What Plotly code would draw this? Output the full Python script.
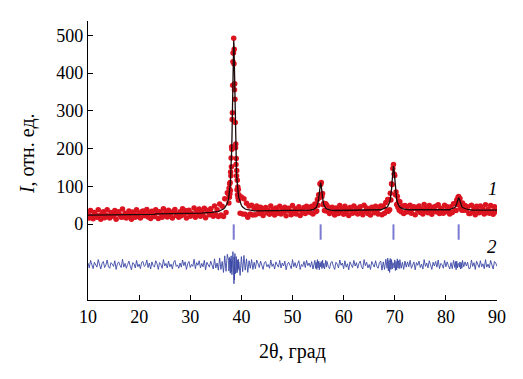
import plotly.graph_objects as go

# 2θ scan positions (deg)
TWO_THETA = [
    10.0,10.25,10.5,10.75,11.0,11.25,11.5,11.75,12.0,12.25,12.5,12.75,13.0,13.25,13.5,13.75,
    14.0,14.25,14.5,14.75,15.0,15.25,15.5,15.75,16.0,16.25,16.5,16.75,17.0,17.25,17.5,17.75,
    18.0,18.25,18.5,18.75,19.0,19.25,19.5,19.75,20.0,20.25,20.5,20.75,21.0,21.25,21.5,21.75,
    22.0,22.25,22.5,22.75,23.0,23.25,23.5,23.75,24.0,24.25,24.5,24.75,25.0,25.25,25.5,25.75,
    26.0,26.25,26.5,26.75,27.0,27.25,27.5,27.75,28.0,28.25,28.5,28.75,29.0,29.25,29.5,29.75,
    30.0,30.25,30.5,30.75,31.0,31.25,31.5,31.75,32.0,32.25,32.5,32.75,33.0,33.25,33.5,33.75,
    34.0,34.25,34.5,34.75,35.0,35.25,35.5,35.75,36.0,36.25,36.5,36.75,37.0,37.25,
    37.5,37.55,37.6,37.65,37.7,37.75,37.8,37.85,37.9,37.95,38.0,38.05,38.1,38.15,38.2,38.25,
    38.3,38.35,38.4,38.45,38.5,38.55,38.6,38.65,38.7,38.75,38.8,38.85,38.9,38.95,39.0,39.05,
    39.1,39.15,39.2,39.25,39.3,39.35,39.4,39.45,39.5,
    39.75,40.0,40.25,40.5,40.75,41.0,41.25,41.5,41.75,42.0,42.25,42.5,42.75,43.0,
    43.25,43.5,43.75,44.0,44.25,44.5,44.75,45.0,45.25,45.5,45.75,46.0,46.25,46.5,46.75,47.0,
    47.25,47.5,47.75,48.0,48.25,48.5,48.75,49.0,49.25,49.5,49.75,50.0,50.25,50.5,50.75,51.0,
    51.25,51.5,51.75,52.0,52.25,52.5,52.75,53.0,53.25,
    53.5,53.75,54.0,54.25,54.375,54.5,54.625,54.75,54.875,55.0,55.125,55.25,55.375,55.5,
    55.625,55.75,55.875,56.0,56.125,56.25,56.375,56.5,56.625,56.75,57.0,57.25,57.5,
    57.75,58.0,58.25,58.5,58.75,59.0,59.25,59.5,59.75,60.0,60.25,60.5,60.75,61.0,61.25,61.5,
    61.75,62.0,62.25,62.5,62.75,63.0,63.25,63.5,63.75,64.0,64.25,64.5,64.75,65.0,65.25,65.5,
    65.75,66.0,66.25,66.5,66.75,67.0,
    67.25,67.5,67.75,68.0,68.25,68.5,68.625,68.75,68.875,69.0,69.125,69.25,69.375,69.5,
    69.625,69.75,69.875,70.0,70.125,70.25,70.375,70.5,70.625,70.75,70.875,71.0,
    71.25,71.5,71.75,72.0,72.25,72.5,
    72.75,73.0,73.25,73.5,73.75,74.0,74.25,74.5,74.75,75.0,75.25,75.5,75.75,76.0,76.25,76.5,
    76.75,77.0,77.25,77.5,77.75,78.0,78.25,78.5,78.75,79.0,79.25,79.5,79.75,80.0,80.25,80.5,80.75,
    81.0,81.25,81.5,81.75,81.875,82.0,82.125,82.25,82.375,82.5,82.625,82.75,82.875,83.0,
    83.125,83.25,83.5,83.75,84.0,84.25,84.5,
    84.75,85.0,85.25,85.5,85.75,86.0,86.25,86.5,86.75,87.0,87.25,87.5,87.75,88.0,88.25,88.5,
    88.75,89.0,89.25,89.5,89.75,90.0,
]

# Calculated (fitted) profile, curve 1 line
CALC = [
    24,24,24,24,24,
    24,24,24,24,24,24,24,24,24,24,
    25,25,25,25,25,25,25,25,25,25,
    25,25,25,25,25,25,25,25,25,
    26,26,26,26,26,26,26,26,26,26,
    26,26,26,26,26,26,26,26,26,
    27,27,27,27,27,27,27,27,27,27,
    27,27,27,27,27,27,27,27,27,
    28,28,28,28,28,28,28,28,28,28,
    28,28,28,29,29,29,29,29,30,30,30,30,31,31,31,31,32,32,33,33,34,35,36,38,40,43,48,55,
    68,72,77,81,87,94,102,111,122,135,151,171,195,224,259,300,346,395,441,474,
    486,475,442,396,347,301,260,225,196,172,152,136,123,112,103,95,88,82,77,73,70,
    57,50,45,42,40,39,38,37,36,36,36,35,35,35,
    35,35,35,35,35,35,35,35,35,35,
    35,35,35,35,35,35,35,35,35,35,
    35,35,35,35,35,35,35,35,35,35,
    35,35,35,35,35,35,35,35,35,35,
    35,
    37,38,38,40,41,42,44,47,51,58,68,83,101,110,101,83,68,58,51,47,44,42,41,40,38,38,37,
    36,36,36,36,36,36,36,36,36,36,
    36,36,36,36,36,36,36,36,36,36,
    36,36,36,36,36,36,36,36,36,36,
    36,36,36,36,36,36,36,36,
    38,39,40,41,42,
    45,47,50,53,58,65,76,93,116,141,154,141,116,93,76,65,58,53,50,47,45,
    42,41,40,39,38,38,
    38,38,38,38,38,38,38,38,38,38,
    38,38,38,38,38,38,38,38,38,38,
    38,38,38,38,38,38,38,38,38,38,
    38,38,38,
    40,41,42,44,46,49,54,60,67,70,67,60,54,49,46,44,42,41,40,39,38,
    37,37,37,37,37,37,37,37,37,37,
    37,37,37,37,37,37,37,37,37,37,
    37,37,
]

# Difference curve (observed - calculated), curve 2
RESID = [
    5,-8,12,-3,-10,7,1,-6,14,-2,
    -11,4,9,-7,0,13,-5,-9,6,2,
    -4,11,-12,3,8,-1,-7,15,-6,4,
    -9,1,10,-3,-13,6,3,-8,12,-5,
    2,-10,7,9,-4,-1,13,-7,5,-11,
    8,-2,-6,11,3,-12,6,1,-9,14,
    -3,4,-8,10,-5,2,-11,7,12,-4,
    0,-9,5,-6,13,-2,8,-12,3,9,
    -7,1,-4,15,-10,6,-1,11,-8,4,
    -5,12,-13,7,2,-6,10,-3,-11,16,
    -8,5,-14,18,-12,9,-20,24,-17,28,
    12,-16,18,-10,20,-14,8,-22,16,-7,24,-19,10,-26,18,-5,22,35,12,-20,
    6,-50,21,-40,25,30,9,-23,16,-14,22,-8,19,-21,13,-17,10,-12,15,-10,8,
    -28,22,-18,25,-14,16,-20,11,-9,14,-12,7,-10,13,
    4,-7,10,-2,-12,6,9,-5,1,-9,13,-4,3,-11,8,0,-6,12,-8,5,
    -3,10,-13,2,7,-1,-10,14,-5,6,-8,3,11,-12,1,-4,9,-7,12,-2,5,
    -6,9,-11,5,12,-9,7,-12,14,-8,10,-13,6,-5,9,-10,13,-7,4,-11,8,12,-6,9,-4,-10,6,
    9,-4,-12,7,2,-8,13,-1,5,-10,
    11,-6,3,-13,8,0,-7,12,-3,6,
    -9,4,10,-5,-11,14,-2,7,-8,1,
    -12,9,3,-6,11,-4,-9,6,
    10,-14,8,-12,15,-9,18,-16,12,-20,17,-12,14,-11,6,4,-8,13,-15,9,-13,16,-8,11,-10,
    14,-9,7,-12,10,-6,8,
    -5,12,-9,3,8,-13,6,-1,10,-7,
    2,-11,14,-4,5,-8,11,0,-12,7,
    -3,9,-6,13,-10,4,1,-9,12,-5,
    8,-2,-11,
    6,-10,12,-7,9,-13,10,-8,4,3,-6,8,-11,6,-9,12,-5,8,-3,7,-10,
    -9,13,-4,6,-12,10,-1,-7,11,-5,3,-10,14,-6,2,-8,12,-3,-11,9,5,-4,
]

# Bragg reflection positions (deg)
BRAGG = [38.5, 55.5, 69.75, 82.5]

X_TICKS = [10, 20, 30, 40, 50, 60, 70, 80, 90]
Y_TICKS = [0, 100, 200, 300, 400, 500]

assert len(TWO_THETA) == len(CALC) == len(RESID), (len(TWO_THETA), len(CALC), len(RESID))

OBS = [c + r for c, r in zip(CALC, RESID)]
DIFF_OFFSET = -108
BRAGG_Y = -21

SERIF = "Liberation Serif, Times New Roman, serif"

fig = go.Figure()
fig.add_trace(go.Scatter(
    x=TWO_THETA, y=OBS, mode="markers",
    marker=dict(size=5.5, color="#dc1420", line=dict(width=0)),
    showlegend=False, hoverinfo="skip"))
fig.add_trace(go.Scatter(
    x=TWO_THETA, y=CALC, mode="lines",
    line=dict(color="#1a0a0a", width=1.3),
    showlegend=False))
fig.add_trace(go.Scatter(
    x=TWO_THETA, y=[r + DIFF_OFFSET for r in RESID], mode="lines",
    line=dict(color="#3c48a6", width=0.9),
    showlegend=False))
fig.add_trace(go.Scatter(
    x=BRAGG, y=[BRAGG_Y] * len(BRAGG), mode="markers",
    marker=dict(symbol="line-ns", size=11, line=dict(width=2, color="#7a7ad2")),
    showlegend=False))

fig.add_annotation(x=89.3, y=94, xref="x", yref="y", text="<i>1</i>", showarrow=False,
                   font=dict(family=SERIF, size=19, color="black"))
fig.add_annotation(x=89.0, y=-58, xref="x", yref="y", text="<i>2</i>", showarrow=False,
                   font=dict(family=SERIF, size=19, color="black"))

fig.add_annotation(x=0, y=0.523, xref="paper", yref="paper", xanchor="center", yanchor="middle",
                   xshift=-61, text="<i>I</i>, отн. ед.", textangle=-90, showarrow=False,
                   font=dict(family=SERIF, size=20, color="black"))
fig.add_annotation(x=0.5, y=0, xref="paper", yref="paper", xanchor="center", yanchor="middle",
                   yshift=-51, text="2θ, град", showarrow=False,
                   font=dict(family=SERIF, size=20, color="black"))

# page body has an 8px margin, so the figure is 8px smaller and margins compensate
fig.update_layout(
    width=515, height=371,
    margin=dict(l=80, r=26, t=13, b=79),
    paper_bgcolor="white", plot_bgcolor="white",
    font=dict(family=SERIF, size=18, color="black"),
    showlegend=False,
)
fig.update_xaxes(range=[10, 90], tickvals=X_TICKS, ticktext=[str(v) for v in X_TICKS],
                 ticks="inside", ticklen=5, tickwidth=1, tickcolor="black",
                 showline=True, linecolor="black", linewidth=1.2, showgrid=False, zeroline=False,
                 tickfont=dict(family=SERIF, size=18, color="black"))
fig.update_yaxes(range=[-201, 538], tickvals=Y_TICKS, ticktext=[str(v) for v in Y_TICKS],
                 ticks="inside", ticklen=5, tickwidth=1, tickcolor="black",
                 showline=True, linecolor="black", linewidth=1.2, showgrid=False, zeroline=False,
                 tickfont=dict(family=SERIF, size=18, color="black"))

fig.write_html("out.html")
